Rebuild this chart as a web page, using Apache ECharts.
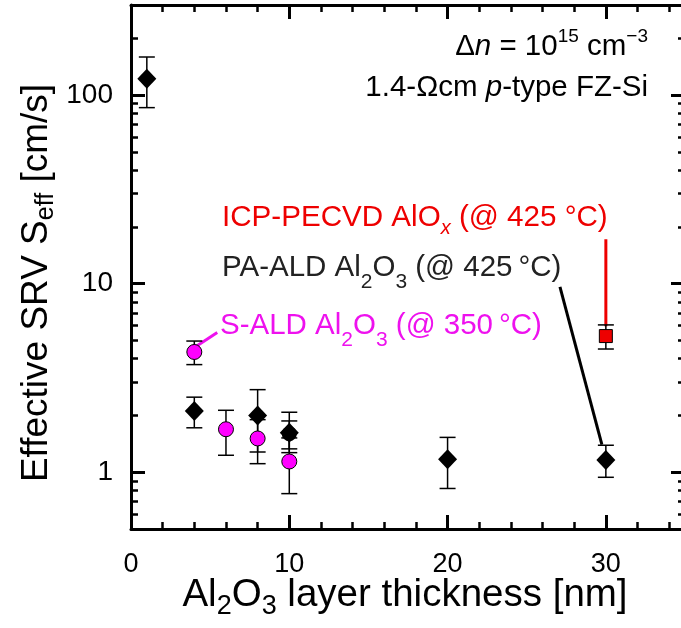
<!DOCTYPE html>
<html><head><meta charset="utf-8">
<script src="https://cdn.jsdelivr.net/npm/echarts@6/dist/echarts.min.js"></script>
<style>html,body{margin:0;padding:0;background:#fff}#c{width:681px;height:628px}</style>
</head><body><div id="c"></div>
<script>
// ---------- data ----------
const xMajorTicks = [0, 10, 20, 30];
const xMinorTicks = [2, 4, 6, 8, 12, 14, 16, 18, 22, 24, 26, 28, 32, 34];
const yMajorTicks = [1, 10, 100];
const yMinorTicks = [0.5, 0.6, 0.7, 0.8, 0.9, 2, 3, 4, 5, 6, 7, 8, 9, 20, 30, 40, 50, 60, 70, 80, 90, 200, 300];

// PA-ALD Al2O3 (@ 425 °C) — black diamonds
const paX  = [1, 4, 8, 10, 20, 30];
const paY  = [122, 2.11, 2.0, 1.62, 1.17, 1.16];
const paLo = [85.7, 1.72, 1.28, 1.27, 0.82, 0.94];
const paHi = [159, 2.50, 2.74, 2.08, 1.53, 1.39];
// second overlapping PA-ALD point at 10 nm (black circle)
const pa2X  = [10];
const pa2Y  = [1.60];
const pa2Lo = [1.33];
const pa2Hi = [1.87];
// S-ALD Al2O3 (@ 350 °C) — magenta circles
const sX  = [4, 6, 8, 10];
const sY  = [4.34, 1.69, 1.51, 1.14];
const sLo = [3.72, 1.23, 1.11, 0.77];
const sHi = [4.96, 2.13, 1.90, 1.52];
// ICP-PECVD AlOx (@ 425 °C) — red square
const icpX  = [30];
const icpY  = [5.27];
const icpLo = [4.5];
const icpHi = [6.04];
// label leader lines (data coordinates)
const leadIcp = [[30, 17.2], [30, 5.95]];
const leadPa  = [[27.1, 9.6], [29.75, 1.40]];
const leadS   = [[4.15, 4.67], [5.45, 5.5]];

// ---------- helpers ----------
const L = v => Math.log10(v);
const Y_MIN = L(0.5), Y_MAX = L(300);
const FONT = '"Liberation Sans", Arial, sans-serif';

function errSeries(xs, lo, hi, z) {
  return {
    type: 'custom', silent: true, z: z || 2,
    data: xs.map((x, i) => [x, L(lo[i]), L(hi[i])]),
    encode: { x: 0, y: [1, 2] },
    renderItem(params, api) {
      const x = api.value(0);
      const p1 = api.coord([x, api.value(1)]);
      const p2 = api.coord([x, api.value(2)]);
      const w = 8, st = { stroke: '#000', lineWidth: 1.5 };
      return { type: 'group', children: [
        { type: 'line', shape: { x1: p1[0], y1: p1[1], x2: p2[0], y2: p2[1] }, style: st },
        { type: 'line', shape: { x1: p1[0] - w, y1: p1[1], x2: p1[0] + w, y2: p1[1] }, style: st },
        { type: 'line', shape: { x1: p2[0] - w, y1: p2[1], x2: p2[0] + w, y2: p2[1] }, style: st }
      ]};
    }
  };
}
function pts(xs, ys) { return xs.map((x, i) => [x, L(ys[i])]); }
function lead(arr, color) {
  return { type: 'line', data: arr.map(p => [p[0], L(p[1])]), showSymbol: false, silent: true, z: 1,
    lineStyle: { color: color, width: 3 }, animation: false };
}

function xAx(pos, values, len, w, showLine, showLabel) {
  return {
    type: 'value', min: 0, max: 35, position: pos, gridIndex: 0,
    axisLine: { show: showLine, onZero: false, lineStyle: { color: '#000', width: 3 } },
    axisTick: { show: true, inside: true, length: len, customValues: values, lineStyle: { color: '#000', width: w } },
    axisLabel: { show: showLabel, customValues: xMajorTicks, color: '#000', fontSize: 27, fontFamily: FONT, margin: 22 },
    splitLine: { show: false }
  };
}
function yAx(pos, values, len, w, showLine, showLabel) {
  return {
    type: 'value', min: Y_MIN, max: Y_MAX, position: pos, gridIndex: 0,
    axisLine: { show: showLine, onZero: false, lineStyle: { color: '#000', width: 3 } },
    axisTick: { show: true, inside: true, length: len, customValues: values.map(L), lineStyle: { color: '#000', width: w } },
    axisLabel: { show: showLabel, customValues: yMajorTicks.map(L), color: '#000', fontSize: 28, fontFamily: FONT, margin: 18,
      formatter: v => String(Math.round(Math.pow(10, v))) },
    splitLine: { show: false }
  };
}

const chart = echarts.init(document.getElementById('c'), null, { renderer: 'canvas' });
chart.setOption({
  animation: false,
  backgroundColor: '#fff',
  textStyle: { fontFamily: FONT },
  grid: { left: 131, top: 5, width: 554, height: 524, containLabel: false, outerBoundsMode: 'none' },
  xAxis: [
    xAx('bottom', xMajorTicks, 14, 3, true, true),
    xAx('bottom', xMinorTicks, 7, 2.5, false, false),
    xAx('top', xMajorTicks, 14, 3, true, false),
    xAx('top', xMinorTicks, 7, 2.5, false, false)
  ],
  yAxis: [
    yAx('left', yMajorTicks, 14, 3, true, true),
    yAx('left', yMinorTicks, 7, 2.5, false, false),
    yAx('right', yMajorTicks, 14, 3, true, false),
    yAx('right', yMinorTicks, 7, 2.5, false, false)
  ],
  series: [
    lead(leadIcp, '#ee0000'),
    lead(leadPa, '#000'),
    lead(leadS, '#ee11ee'),
    errSeries(paX, paLo, paHi),
    errSeries(pa2X, pa2Lo, pa2Hi),
    errSeries(sX, sLo, sHi),
    errSeries(icpX, icpLo, icpHi),
    { type: 'scatter', name: 'PA-ALD 2', data: pts(pa2X, pa2Y), symbol: 'circle', symbolSize: 15, z: 3,
      itemStyle: { color: '#000', opacity: 1 } },
    { type: 'scatter', name: 'PA-ALD', data: pts(paX, paY), symbol: 'diamond', symbolSize: [19, 20], z: 4,
      itemStyle: { color: '#000', opacity: 1 } },
    { type: 'scatter', name: 'S-ALD', data: pts(sX, sY), symbol: 'circle', symbolSize: 15, z: 5,
      itemStyle: { color: '#ff00ff', borderColor: '#000', borderWidth: 1, opacity: 1 } },
    { type: 'scatter', name: 'ICP-PECVD', data: pts(icpX, icpY), symbol: 'rect', symbolSize: 13, z: 5,
      itemStyle: { color: '#ee0000', borderColor: '#000', borderWidth: 1, opacity: 1 } }
  ],
  graphic: [
    // y axis title
    { type: 'text', x: 37, y: 283, rotation: Math.PI / 2, silent: true,
      style: { text: '{a|Effective SRV S}{s|eff}{a| [cm/s]}', align: 'center', verticalAlign: 'middle',
        rich: { a: { fontSize: 37, fontFamily: FONT, fill: '#000', lineHeight: 44, verticalAlign: 'middle' },
                s: { fontSize: 25, fontFamily: FONT, fill: '#000', lineHeight: 20, verticalAlign: 'bottom' } } } },
    // x axis title
    { type: 'text', x: 405, y: 595, silent: true,
      style: { text: '{a|Al}{s|2}{a|O}{s|3}{a| layer thickness [nm]}', align: 'center', verticalAlign: 'middle',
        rich: { a: { fontSize: 38.5, fontFamily: FONT, fill: '#000', lineHeight: 50, verticalAlign: 'middle' },
                s: { fontSize: 27, fontFamily: FONT, fill: '#000', lineHeight: 12, verticalAlign: 'bottom' } } } },
    // top-right conditions
    { type: 'text', x: 648, y: 47, silent: true,
      style: { text: '{a|Δ}{i|n}{a| = 10}{p|15}{a| cm}{p|−3}', align: 'right', verticalAlign: 'middle',
        rich: { a: { fontSize: 29.5, fontFamily: FONT, fill: '#000', lineHeight: 40, verticalAlign: 'middle' },
                i: { fontSize: 29.5, fontFamily: FONT, fontStyle: 'italic', fill: '#000', lineHeight: 40, verticalAlign: 'middle' },
                p: { fontSize: 19, fontFamily: FONT, fill: '#000', lineHeight: 20, verticalAlign: 'top' } } } },
    { type: 'text', x: 648, y: 88, silent: true,
      style: { text: '{a|1.4-Ωcm }{i|p}{a|-type FZ-Si}', align: 'right', verticalAlign: 'middle',
        rich: { a: { fontSize: 29.5, fontFamily: FONT, fill: '#000', lineHeight: 40, verticalAlign: 'middle' },
                i: { fontSize: 29.5, fontFamily: FONT, fontStyle: 'italic', fill: '#000', lineHeight: 40, verticalAlign: 'middle' } } } },
    // series labels
    { type: 'text', x: 222, y: 218, silent: true,
      style: { text: '{a|ICP-PECVD AlO}{s|x}{a| (@ 425 °C)}', align: 'left', verticalAlign: 'middle',
        rich: { a: { fontSize: 29.6, fontFamily: FONT, fill: '#ee0000', lineHeight: 40, verticalAlign: 'middle' },
                s: { fontSize: 20, fontFamily: FONT, fontStyle: 'italic', fill: '#ee0000', lineHeight: 16, verticalAlign: 'bottom' } } } },
    { type: 'text', x: 222, y: 268, silent: true,
      style: { text: '{a|PA-ALD Al}{s|2}{a|O}{s|3}{a| (@ 425\u2009°C)}', align: 'left', verticalAlign: 'middle',
        rich: { a: { fontSize: 29.5, fontFamily: FONT, fill: '#222', lineHeight: 50, verticalAlign: 'middle' },
                s: { fontSize: 21, fontFamily: FONT, fill: '#222', lineHeight: 18, verticalAlign: 'bottom' } } } },
    { type: 'text', x: 220, y: 326, silent: true,
      style: { text: '{a|S-ALD Al}{s|2}{a|O}{s|3}{a| (@ 350\u2009°C)}', align: 'left', verticalAlign: 'middle',
        rich: { a: { fontSize: 29.5, fontFamily: FONT, fill: '#ee11ee', lineHeight: 50, verticalAlign: 'middle' },
                s: { fontSize: 21, fontFamily: FONT, fill: '#ee11ee', lineHeight: 20, verticalAlign: 'bottom' } } } }
  ]
});
</script>
</body></html>
